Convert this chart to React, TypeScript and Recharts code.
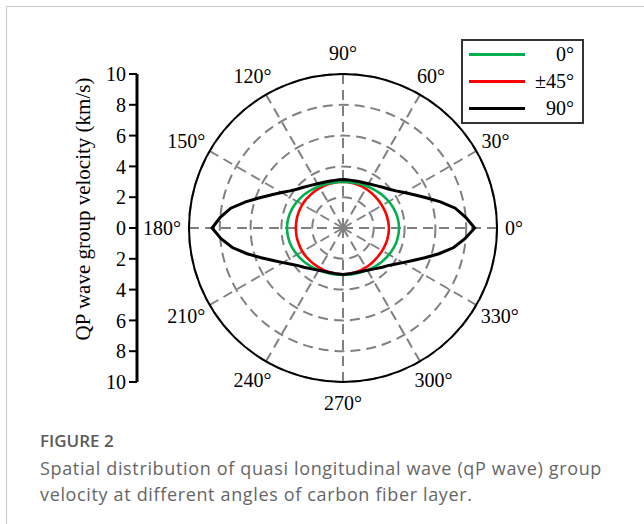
import React from "react";
import {
  ComposedChart,
  Legend,
  PolarAngleAxis,
  PolarGrid,
  PolarRadiusAxis,
  Radar,
  RadarChart,
  YAxis,
} from "recharts";

const SERIF = "'Liberation Serif', 'Times New Roman', serif";
const SANS = "'Open Sans', 'Noto Sans', sans-serif";

// polar centre / radius of the plot, page pixels
const CX = 343;
const CY = 228;
const R = 154;

// angles every 5 degrees (categories of the angle axis)
const ANGLES = [
  0, 5, 10, 15, 20, 25, 30, 35, 40, 45, 50, 55, 60, 65, 70, 75, 80, 85,
  90, 95, 100, 105, 110, 115, 120, 125, 130, 135, 140, 145, 150, 155, 160, 165, 170, 175,
  180, 185, 190, 195, 200, 205, 210, 215, 220, 225, 230, 235, 240, 245, 250, 255, 260, 265,
  270, 275, 280, 285, 290, 295, 300, 305, 310, 315, 320, 325, 330, 335, 340, 345, 350, 355,
];

// group velocity (km/s), fibre layer 0°
const V_0 = [
  3.64, 3.63, 3.61, 3.58, 3.54, 3.49, 3.44, 3.38, 3.33, 3.27, 3.22, 3.17, 3.13, 3.09, 3.06, 3.03, 3.01, 3.0,
  3.0, 3.0, 3.01, 3.03, 3.06, 3.09, 3.13, 3.17, 3.22, 3.27, 3.33, 3.38, 3.44, 3.49, 3.54, 3.58, 3.61, 3.63,
  3.64, 3.63, 3.61, 3.59, 3.55, 3.5, 3.45, 3.4, 3.35, 3.3, 3.25, 3.2, 3.16, 3.12, 3.09, 3.07, 3.06, 3.05,
  3.05, 3.05, 3.06, 3.07, 3.09, 3.12, 3.16, 3.2, 3.25, 3.3, 3.35, 3.4, 3.45, 3.5, 3.55, 3.59, 3.61, 3.63,
];

// fibre layer ±45°
const V_45 = [
  2.98, 2.97, 2.96, 2.95, 2.94, 2.93, 2.92, 2.92, 2.92, 2.92, 2.93, 2.94, 2.95, 2.96, 2.97, 2.98, 2.99, 3.0,
  3.0, 3.0, 3.0, 3.0, 3.0, 3.0, 3.0, 3.01, 3.01, 3.02, 3.03, 3.04, 3.05, 3.05, 3.06, 3.06, 3.06, 3.06,
  3.06, 3.06, 3.06, 3.06, 3.05, 3.05, 3.05, 3.04, 3.03, 3.02, 3.01, 3.0, 3.0, 3.0, 3.01, 3.01, 3.02, 3.02,
  3.02, 3.01, 3.0, 2.99, 2.98, 2.97, 2.96, 2.95, 2.94, 2.93, 2.93, 2.93, 2.94, 2.95, 2.96, 2.97, 2.97, 2.98,
];

// fibre layer 90°
const V_90 = [
  8.55, 8.0, 7.4, 6.55, 5.75, 5.1, 4.6, 4.2, 3.92, 3.72, 3.55, 3.42, 3.32, 3.24, 3.19, 3.16, 3.14, 3.14,
  3.15, 3.14, 3.14, 3.16, 3.19, 3.24, 3.32, 3.42, 3.55, 3.72, 3.92, 4.2, 4.6, 5.1, 5.75, 6.55, 7.4, 8.0,
  8.5, 7.95, 7.3, 6.45, 5.65, 5.0, 4.5, 4.1, 3.8, 3.6, 3.42, 3.28, 3.17, 3.09, 3.04, 3.01, 3.0, 3.0,
  3.02, 3.0, 3.0, 3.01, 3.04, 3.09, 3.17, 3.28, 3.42, 3.6, 3.8, 4.1, 4.5, 5.0, 5.65, 6.45, 7.3, 7.95,
];

const GRID_ANGLES = [0, 30, 60, 90, 120, 150, 180, 210, 240, 270, 300, 330];
const Y_TICKS = [-10, -8, -6, -4, -2, 0, 2, 4, 6, 8, 10];
const Y_LABEL = "QP wave group velocity (km/s)";

const SERIES = [
  { key: "v0", name: "0°", color: "#00b050" },
  { key: "v45", name: "±45°", color: "#ff0000" },
  { key: "v90", name: "90°", color: "#000000" },
];

const rows = ANGLES.map((a, i) => ({ angle: a, v0: V_0[i], v45: V_45[i], v90: V_90[i] }));

function AngleTick(props: any) {
  const a = Number(props.payload?.value);
  if (a % 30 !== 0) return <g />;
  const label = `${a}°`;
  const half = (String(a).length * 10 + 8) / 2;
  const rad = (a * Math.PI) / 180;
  const x = CX + (R + 8 + half) * Math.cos(rad);
  const y = CY - (R + 21) * Math.sin(rad);
  return (
    <text x={x} y={y} textAnchor="middle" dominantBaseline="central" fontFamily={SERIF} fontSize={20} fill="#000">
      {label}
    </text>
  );
}

function LegendBox() {
  return (
    <div
      style={{
        width: 123,
        height: 85,
        boxSizing: "border-box",
        border: "2px solid #333",
        background: "#fff",
        fontFamily: SERIF,
        fontSize: 20,
        color: "#000",
      }}
    >
      {SERIES.map((s, i) => (
        <div key={s.key} style={{ position: "absolute", left: 0, top: 3 + i * 27, width: 123, height: 24 }}>
          <div style={{ position: "absolute", left: 8, top: 11, width: 56, height: 3, background: s.color }} />
          <div style={{ position: "absolute", right: 10, top: 0, lineHeight: "24px" }}>{s.name}</div>
        </div>
      ))}
    </div>
  );
}

export default function App() {
  return (
    <div style={{ position: "absolute", left: 0, top: 0, width: 644, height: 524, background: "#fff", overflow: "hidden" }}>
      <div
        style={{
          position: "absolute",
          left: 6,
          top: 6,
          width: 700,
          height: 600,
          borderLeft: "1px solid #cccccc",
          borderTop: "1px solid #cccccc",
        }}
      />

      <div style={{ position: "absolute", left: 0, top: 0 }}>
        <ComposedChart width={150} height={400} data={rows} margin={{ top: 74, right: 0, bottom: 18, left: 0 }}>
          <YAxis
            type="number"
            domain={[-10, 10]}
            allowDataOverflow
            ticks={Y_TICKS}
            interval={0}
            width={137}
            tickSize={8}
            tickMargin={3}
            tickFormatter={(v: number) => String(Math.abs(v))}
            axisLine={{ stroke: "#000", strokeWidth: 3 }}
            tickLine={{ stroke: "#000", strokeWidth: 2 }}
            tick={{ fill: "#000", fontSize: 20, fontFamily: SERIF }}
            label={() => (
              <text
                x={83}
                y={209}
                transform="rotate(-90 83 209)"
                textAnchor="middle"
                dominantBaseline="central"
                fontFamily={SERIF}
                fontSize={21}
                fill="#000"
              >
                {Y_LABEL}
              </text>
            )}
          />
        </ComposedChart>
      </div>

      <div style={{ position: "absolute", left: 0, top: 0 }}>
        {/* band scale puts category i at start + (i+1)*step, so start one step early */}
        <RadarChart
          width={644}
          height={420}
          data={rows}
          cx={CX}
          cy={CY}
          outerRadius={R}
          startAngle={-5}
          endAngle={355}
          margin={{ top: 0, right: 0, bottom: 0, left: 0 }}
        >
          <PolarGrid gridType="circle" polarAngles={GRID_ANGLES} stroke="#808080" strokeWidth={2} strokeDasharray="10 6" />
          <PolarRadiusAxis type="number" domain={[0, 10]} tickCount={6} tick={false} axisLine={false} />
          <PolarAngleAxis
            dataKey="angle"
            axisLineType="circle"
            axisLine={{ stroke: "#000", strokeWidth: 2 }}
            tickLine={false}
            tick={<AngleTick />}
          />
          <Radar dataKey="v45" name="±45°" stroke="#ff0000" strokeWidth={2.6} fill="none" dot={false} isAnimationActive={false} />
          <Radar dataKey="v0" name="0°" stroke="#00b050" strokeWidth={2.6} fill="none" dot={false} isAnimationActive={false} />
          <Radar dataKey="v90" name="90°" stroke="#000000" strokeWidth={3} fill="none" dot={false} isAnimationActive={false} />
          <Legend content={() => <LegendBox />} wrapperStyle={{ position: "absolute", left: 461, top: 39, width: 123, height: 85 }} />
        </RadarChart>
      </div>

      <div style={{ position: "absolute", left: 40, top: 428, fontFamily: SANS, color: "#5a5a5a" }}>
        <div style={{ fontSize: 17, fontWeight: 600, lineHeight: "26px" }}>FIGURE 2</div>
        <div style={{ fontSize: 18, lineHeight: "26px", letterSpacing: 0.65, color: "#666", marginTop: 1 }}>
          Spatial distribution of quasi longitudinal wave (qP wave) group
        </div>
        <div style={{ fontSize: 18, lineHeight: "26px", letterSpacing: 0.65, color: "#666" }}>
          velocity at different angles of carbon fiber layer.
        </div>
      </div>
    </div>
  );
}
